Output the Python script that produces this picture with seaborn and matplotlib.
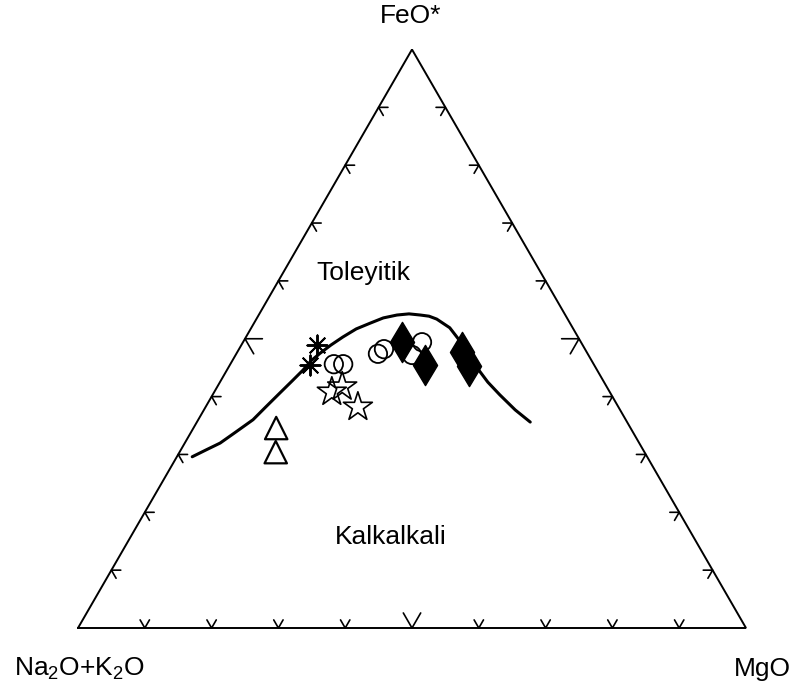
import numpy as np
import pandas as pd
import matplotlib
matplotlib.use("Agg")
import matplotlib.pyplot as plt
import seaborn as sns

# ---- compositions (FeO*, Na2O+K2O, MgO), normalised to 100 ----
asterisk_feo = [48.9, 45.5]
asterisk_alk = [39.8, 42.5]
asterisk_mgo = [11.3, 12.0]

circle_feo = [45.6, 45.6, 47.4, 48.2, 49.4, 47.2]
circle_alk = [38.9, 37.5, 31.4, 30.1, 23.8, 26.4]
circle_mgo = [15.5, 16.9, 21.2, 21.7, 26.8, 26.4]

diamond_feo = [49.4, 45.5, 47.7, 45.3]
diamond_alk = [26.8, 25.3, 18.7, 18.8]
diamond_mgo = [23.8, 29.2, 33.6, 35.9]

star_feo = [40.8, 41.7, 38.2]
star_alk = [41.6, 39.6, 39.0]
star_mgo = [17.6, 18.7, 22.8]

triangle_feo = [34.6, 30.4]
triangle_alk = [53.1, 55.2]
triangle_mgo = [12.4, 14.4]

# tholeiitic / calc-alkaline boundary
boundary_feo = [29.6, 30.8, 32.0, 33.9, 36.0, 38.2, 40.6, 42.7, 44.6, 46.2,
                47.5, 48.9, 50.3, 51.7, 52.7, 53.6, 54.1, 54.3, 54.1, 53.9,
                53.4, 51.9, 48.9, 45.2, 42.5, 40.3, 37.7, 35.6]
boundary_alk = [68.1, 65.4, 62.8, 59.4, 55.8, 52.8, 49.5, 46.6, 44.0, 42.0,
                40.0, 37.7, 35.2, 32.5, 29.9, 27.5, 25.2, 23.3, 21.7, 20.5,
                19.6, 18.4, 17.9, 17.8, 17.4, 16.7, 15.7, 14.5]
boundary_mgo = [2.3, 3.8, 5.3, 6.7, 8.2, 9.0, 9.9, 10.7, 11.4, 11.8,
                12.5, 13.4, 14.5, 15.8, 17.4, 18.9, 20.7, 22.4, 24.2, 25.6,
                27.0, 29.7, 33.2, 37.0, 40.1, 43.0, 46.6, 49.9]

tick_values = [10, 20, 30, 40, 50, 60, 70, 80, 90]

apex_labels = ["FeO*", r"Na$_\mathregular{2}$O+K$_\mathregular{2}$O", "MgO"]
field_labels = ["Toleyitik", "Kalkalkali"]

SQ3 = np.sqrt(3) / 2


def to_xy(feo, alk, mgo):
    f = np.asarray(feo, float)
    a = np.asarray(alk, float)
    m = np.asarray(mgo, float)
    tot = f + a + m
    F, M = f / tot, m / tot
    return M + F / 2, F * SQ3


sns.set_style("white")
plt.rcParams["font.family"] = ["Liberation Sans", "DejaVu Sans"]
plt.rcParams["mathtext.fontset"] = "custom"
plt.rcParams["mathtext.rm"] = "Liberation Sans"

fig = plt.figure(figsize=(7.95, 6.87), dpi=100)
ax = fig.add_axes([0, 0, 1, 1])
ax.set_xlim(-78 / 668, (795 - 78) / 668)
ax.set_ylim(-59 / 668, (687 - 59) / 668)
ax.set_axis_off()

# triangle frame
ax.plot([0, 1, 0.5, 0], [0, 0, SQ3, 0], color="black", lw=1.4,
        solid_joinstyle="miter", zorder=2)

# chevron ticks on the three edges
for t in tick_values:
    L = 0.026 if t == 50 else 0.014
    f = t / 100
    edges = [
        ((f, 0.0), (0.5, SQ3), (-0.5, SQ3)),                 # bottom
        ((f / 2, f * SQ3), (1.0, 0.0), (0.5, -SQ3)),         # left
        ((1 - f / 2, f * SQ3), (-1.0, 0.0), (-0.5, -SQ3)),   # right
    ]
    for (bx, by), d1, d2 in edges:
        ax.plot([bx + L * d1[0], bx, bx + L * d2[0]],
                [by + L * d1[1], by, by + L * d2[1]],
                color="black", lw=1.2, zorder=2)

# boundary curve
bx, by = to_xy(boundary_feo, boundary_alk, boundary_mgo)
sns.lineplot(x=bx, y=by, sort=False, color="black", lw=2.2, ax=ax,
             zorder=3, estimator=None)

# sample groups
groups = [
    (circle_feo, circle_alk, circle_mgo, "o", 175, "none", 1.3),
    (star_feo, star_alk, star_mgo, "*", 480, "none", 1.2),
    (triangle_feo, triangle_alk, triangle_mgo, "^", 260, "none", 1.6),
    (diamond_feo, diamond_alk, diamond_mgo, "d", 420, "black", 1.0),
]
for fe, al, mg, mk, s, fc, lw in groups:
    x, y = to_xy(fe, al, mg)
    df = pd.DataFrame({"x": x, "y": y})
    sns.scatterplot(data=df, x="x", y="y", marker=mk, s=s, facecolor=fc,
                    edgecolor="black", linewidth=lw, ax=ax, zorder=4)

ax_x, ax_y = to_xy(asterisk_feo, asterisk_alk, asterisk_mgo)
ax.scatter(ax_x, ax_y, marker=(8, 2, 0), s=210, color="black",
           linewidths=1.4, zorder=4)

ax.set_xlabel("")
ax.set_ylabel("")

# labels
fs = 19
kw = dict(ha="center", va="center", fontsize=fs, color="black")
ax.text(0.4985, 0.916, apex_labels[0], **kw)
ax.text(0.003, -0.061, apex_labels[1], **kw)
ax.text(1.024, -0.061, apex_labels[2], **kw)
ax.text(0.4266, 0.5314, field_labels[0], **kw)
ax.text(0.4686, 0.1362, field_labels[1], **kw)

fig.savefig("out.png", dpi=100, facecolor="white")
